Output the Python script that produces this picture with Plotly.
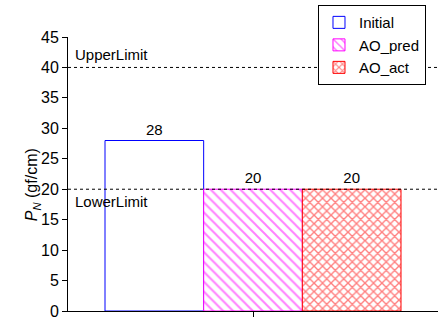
import plotly.graph_objects as go

categories = [""]
series_names = ["Initial", "AO_pred", "AO_act"]
initial = [28]
ao_pred = [20]
ao_act = [20]
upper_limit = 40
lower_limit = 20
y_ticks = [0, 5, 10, 15, 20, 25, 30, 35, 40, 45]

font = "Liberation Sans, Arial, sans-serif"

fig = go.Figure()
fig.add_trace(go.Bar(
    x=categories, y=initial, name=series_names[0],
    marker=dict(color="rgba(255,255,255,0)", line=dict(color="#0000ff", width=1)),
    text=initial, textposition="outside", textfont=dict(color="black", size=15, family=font),
))
fig.add_trace(go.Bar(
    x=categories, y=ao_pred, name=series_names[1],
    marker=dict(color="white", line=dict(color="#ff00ff", width=1),
                pattern=dict(shape="\\", fgcolor="#ff00ff", bgcolor="white", size=7, solidity=0.28)),
    text=ao_pred, textposition="outside", textfont=dict(color="black", size=15, family=font),
))
fig.add_trace(go.Bar(
    x=categories, y=ao_act, name=series_names[2],
    marker=dict(color="white", line=dict(color="#ff0000", width=1),
                pattern=dict(shape="x", fgcolor="#ff0000", bgcolor="white", size=6, solidity=0.4)),
    text=ao_act, textposition="outside", textfont=dict(color="black", size=15, family=font),
))

for yv in (upper_limit, lower_limit):
    fig.add_shape(type="line", xref="paper", x0=0, x1=1, yref="y", y0=yv, y1=yv,
                  line=dict(color="black", width=1, dash="dot"), layer="above")

fig.add_annotation(text="UpperLimit", xref="paper", x=0.013, xanchor="left",
                   yref="y", y=upper_limit, yanchor="bottom", yshift=2, showarrow=False,
                   font=dict(size=15, color="black", family=font))
fig.add_annotation(text="LowerLimit", xref="paper", x=0.013, xanchor="left",
                   yref="y", y=lower_limit, yanchor="top", yshift=-2, showarrow=False,
                   font=dict(size=15, color="black", family=font))
fig.add_annotation(text="<i>P</i><sub><i>N</i></sub> (gf/cm)", xref="paper", x=-0.095,
                   xanchor="center", yanchor="middle",
                   yref="y", y=20.8, textangle=-90, showarrow=False,
                   font=dict(size=16, color="black", family=font))

fig.update_layout(
    width=438, height=320,
    margin=dict(l=68, r=0, t=37, b=9, autoexpand=False),
    paper_bgcolor="white", plot_bgcolor="white",
    barmode="group", bargap=0.2, bargroupgap=0,
    font=dict(family=font, size=15, color="black"),
    showlegend=True,
    legend=dict(xref="container", yref="container", x=0.726, y=0.984,
                xanchor="left", yanchor="top",
                bgcolor="white", bordercolor="black", borderwidth=1,
                font=dict(size=15, family=font), tracegroupgap=0, itemwidth=30),
    xaxis=dict(showline=True, linecolor="black", linewidth=1, ticks="outside",
               ticklen=5, tickcolor="black", showgrid=False, showticklabels=False,
               zeroline=False, automargin=False),
    yaxis=dict(range=[0, 45], tickvals=y_ticks, showline=True, linecolor="black",
               linewidth=1, ticks="outside", ticklen=5, tickcolor="black",
               showgrid=False, zeroline=False, automargin=False,
               tickfont=dict(size=16, family=font)),
)

fig.write_html("out.html", config={"displayModeBar": False},
               post_script="document.body.style.margin='0';")
